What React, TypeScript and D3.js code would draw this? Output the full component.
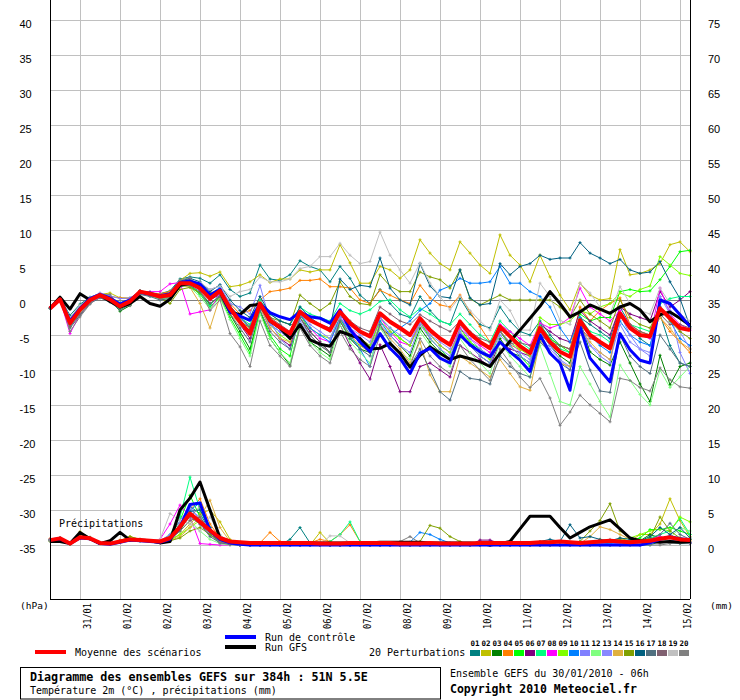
import * as d3 from "d3";

// ---- axis / label data ----
const STEP_HOURS = 6;
const TOTAL_HOURS = 384;
const FIRST_MIDNIGHT_HOUR = 18; // 30/01 06h -> 31/01 00h
const DATE_LABELS = ["31/01", "01/02", "02/02", "03/02", "04/02", "05/02", "06/02", "07/02",
  "08/02", "09/02", "10/02", "11/02", "12/02", "13/02", "14/02", "15/02"];
const TEMP_TICKS = [40, 35, 30, 25, 20, 15, 10, 5, 0, -5, -10, -15, -20, -25, -30, -35];
const PRECIP_TICKS = [75, 70, 65, 60, 55, 50, 45, 40, 35, 30, 25, 20, 15, 10, 5, 0];
const MEMBER_IDS = ["01", "02", "03", "04", "05", "06", "07", "08", "09", "10",
  "11", "12", "13", "14", "15", "16", "17", "18", "19", "20"];

// ---- temperature 2m (°C), every 6h from 30/01 06h ----
const tempMean = [
  -1.2, 0.1, -3.3, -1.4, 0.0, 0.7, 0.1, -0.9, -0.2, 1.2, 0.9, 0.5, 0.7, 2.4, 2.4, 1.7, 0.2,
  1.3, -1.2, -3.1, -4.8, -0.5, -2.9, -3.9, -4.8, -1.7, -2.9, -3.6, -4.3, -1.7, -3.3, -4.5, -5.2,
  -1.9, -3.1, -4.0, -5.0, -2.6, -4.3, -5.5, -6.4, -3.1, -4.8, -6.0, -6.9, -3.8, -5.2, -6.6, -7.6,
  -4.0, -6.0, -7.4, -8.1, -2.9, -5.0, -6.0, -6.9, -1.9, -4.0, -5.0, -5.2, -1.2, -2.6, -4.0, -4.3,
];
const tempControl = [
  -1.2, 0.1, -3.0, -1.2, 0.2, 0.8, 0.3, -0.6, 0.0, 1.1, 0.8, 0.6, 0.9, 2.5, 2.7, 2.3, 0.7,
  1.5, -1.7, -2.3, -2.9, -0.5, -1.8, -2.4, -2.8, -1.7, -2.4, -2.6, -3.3, -1.4, -4.2, -6.0, -7.4,
  -4.8, -6.9, -8.3, -10.5, -7.6, -6.9, -8.3, -9.0, -5.0, -6.4, -7.4, -8.1, -6.0, -7.4, -8.6, -10.2,
  -5.0, -7.6, -9.0, -12.9, -3.8, -8.3, -10.0, -11.7, -4.8, -7.1, -8.6, -9.0, 0.0, -0.5, -2.1, -3.8,
];
const tempGFS = [
  -1.2, 0.4, -1.3, 0.9, 0.0, 0.7, -0.2, -1.0, -0.5, 0.5, -0.5, -0.9, 0.1, 2.1, 2.4, 1.9, 0.5,
  1.2, -1.7, -2.1, -0.8, -0.6, -3.0, -4.0, -5.5, -3.5, -5.7, -6.3, -6.6, -4.5, -5.0, -5.5, -7.0,
  -6.9, -6.2, -7.6, -9.6, -7.9, -6.7, -7.6, -8.5, -8.0, -8.4, -8.8, -9.5, -7.6, -5.9, -4.3, -2.6,
  -0.9, 1.2, -0.5, -2.4, -1.7, -0.7, -1.3, -1.9, -1.0, -0.5, -1.4, -3.1, -2.1, -1.7, -2.6, -3.6,
];
const tempP01 = [
  -1.2, 0.3, -2.2, -0.6, 0.4, 0.9, 0.4, -0.4, 0.1, 1.3, 1.0, 0.9, 1.3, 3.0, 3.3, 3.1, 2.4,
  3.6, 1.5, 0.5, 1.0, 5.0, 3.0, 2.8, 3.6, 5.6, 4.8, 4.3, 2.6, 4.8, 3.1, 0.7, -0.5,
  1.5, -0.5, -2.0, -2.5, 0.5, -1.5, -3.0, -3.5, 0.3, -2.0, -3.5, -4.0, -1.0, -3.0, -4.5, -5.0,
  -3.0, -5.0, -6.5, -7.0, -2.5, -3.5, -4.5, -5.5, -1.0, -3.5, -5.5, -6.5, -2.0, -6.5, -9.0, -9.5,
];
const tempP02 = [
  -1.2, 0.2, -2.6, -0.8, 0.2, 0.8, 1.0, 0.3, 0.3, 1.0, 0.9, 0.8, 1.2, 2.8, 3.8, 3.9, 3.4,
  4.0, 1.9, 2.1, 2.6, 3.6, 2.5, 3.0, 3.0, 4.3, 4.0, 4.3, 4.3, 7.9, 5.3, 2.4, 2.4,
  4.8, 4.3, 3.1, 4.3, 8.6, 6.7, 5.2, 4.3, 8.3, 6.7, 5.0, 3.8, 9.3, 6.4, 5.0, 2.6,
  6.4, 3.3, 0.7, -1.4, 2.4, 0.7, 0.0, 0.2, 7.2, 3.6, 3.8, 4.3, 5.2, 7.9, 8.3, 6.9,
];
const tempP03 = [
  -1.2, 0.0, -3.8, -1.8, -0.3, 0.8, 0.0, -1.6, -0.8, 1.0, 0.6, 0.2, 0.3, 2.0, 2.0, 1.0, -0.6,
  0.6, -2.0, -4.5, -7.0, -1.5, -5.5, -7.5, -9.3, -3.5, -6.0, -7.0, -8.0, -3.0, -5.5, -7.0, -7.5,
  -4.0, -5.0, -6.5, -8.0, -4.0, -6.0, -7.5, -8.5, -5.0, -6.5, -8.0, -9.0, -5.5, -7.5, -8.0, -9.0,
  -4.5, -6.5, -8.0, -9.0, -3.0, -7.4, -8.5, -9.3, -6.0, -9.0, -12.0, -14.5, -7.9, -12.1, -9.5, -9.0,
];
const tempP04 = [
  -1.2, 0.1, -3.0, -1.0, 0.3, 0.9, 0.5, 0.3, 0.2, 1.3, 1.0, 0.9, 1.2, 2.5, 2.6, 1.5, 1.0,
  1.5, -0.5, -2.0, -1.5, 0.0, 1.2, 1.4, 1.7, 2.8, 2.8, 3.0, 1.9, 1.9, 1.7, 0.0, -0.5,
  1.4, 0.7, 0.0, -0.5, 2.1, 0.3, -0.7, -1.0, 0.7, -1.7, -3.8, -6.0, -4.3, -6.4, -7.1, -7.5,
  -4.3, -5.5, -6.5, -7.0, -1.0, -3.0, -1.5, -0.5, 0.3, -3.5, -4.5, -5.0, -2.5, -4.5, -6.0, -7.5,
];
const tempP05 = [
  -1.2, 0.0, -3.5, -1.6, 0.2, 0.6, -0.1, -1.1, -0.6, 1.1, 0.7, 0.2, 0.4, 2.2, 2.0, 0.8, -1.0,
  0.4, -2.5, -5.0, -7.6, -1.5, -5.0, -7.0, -8.0, -2.0, -4.5, -6.0, -7.5, -2.5, -5.5, -6.5, -7.0,
  -2.5, -4.0, -5.5, -6.5, -3.0, -5.5, -7.0, -8.5, -4.0, -6.0, -7.0, -8.0, -4.5, -6.5, -8.0, -9.5,
  -3.5, -5.5, -6.5, -7.5, -2.0, -3.0, -2.5, -2.5, 1.2, 1.5, 1.2, 1.3, 2.9, 4.8, 6.9, 7.1,
];
const tempP06 = [
  -1.2, 0.1, -3.6, -1.5, 0.0, 0.6, 0.0, -1.0, -0.3, 1.0, 0.8, 0.4, 0.6, 2.3, 2.6, 1.5, 0.0,
  0.8, -1.5, -3.5, -5.5, -1.0, -4.0, -5.5, -6.5, -2.5, -4.5, -6.0, -7.5, -3.5, -6.5, -9.0, -11.3,
  -6.4, -9.5, -13.1, -13.1, -9.5, -9.0, -10.0, -11.0, -6.5, -7.5, -8.5, -9.5, -6.0, -7.0, -7.5, -8.0,
  -3.5, -4.5, -5.5, -6.0, -1.5, -3.0, -4.0, -5.0, -1.0, -2.0, -2.5, -3.0, 1.2, -1.0, 0.0, 1.2,
];
const tempP07 = [
  -1.2, 0.2, -3.0, -1.2, 0.0, 0.5, 0.0, -1.0, -0.4, 1.1, 0.9, 0.7, 0.8, 2.4, 2.2, 0.8, -0.8,
  0.9, -1.0, -2.5, -3.5, 0.0, -2.0, -3.0, -3.5, -1.0, -2.0, -2.5, -3.0, -0.5, -1.5, -2.0, -1.4,
  -0.2, 0.0, -1.4, -2.4, -1.2, -2.0, -3.0, -3.5, -2.0, -3.5, -5.0, -6.0, -3.0, -4.5, -6.0, -7.0,
  -3.5, -5.5, -7.0, -7.5, -2.5, -4.5, -5.0, -6.0, -2.0, -3.5, -4.0, -4.5, -0.5, 0.2, 0.5, 0.5,
];
const tempP08 = [
  -1.2, 0.1, -4.8, -2.0, -0.4, 0.4, 0.0, -0.8, 0.0, 1.2, 1.2, 1.2, 2.3, 2.5, -2.0, -1.7, -1.4,
  1.0, -1.5, -3.0, -4.5, -0.5, -3.0, -4.0, -5.0, -2.0, -4.0, -5.5, -6.0, -2.5, -4.0, -5.5, -6.5,
  -2.5, -4.5, -6.0, -6.5, -3.0, -5.0, -6.5, -7.5, -4.0, -5.5, -6.5, -7.5, -3.5, -4.5, -5.5, -6.5,
  -3.3, -4.0, -3.5, -2.5, 1.7, -1.0, -2.0, -3.0, -1.5, -3.5, -5.0, -5.5, 1.7, -2.0, -3.5, -4.3,
];
const tempP09 = [
  -1.2, 0.0, -3.2, -1.3, 0.1, 0.7, 0.2, -0.8, -0.1, 1.2, 0.9, 0.5, 0.5, 2.3, 2.5, 1.8, 0.2,
  1.2, -1.2, -3.0, -4.5, -1.0, -3.5, -5.0, -6.0, -2.0, -4.0, -5.0, -5.5, -2.5, -4.5, -5.5, -6.5,
  -3.0, -4.5, -5.5, -6.5, -3.5, -5.0, -6.5, -7.5, -4.5, -6.0, -7.5, -8.5, -4.5, -6.0, -7.0, -8.0,
  -2.5, -3.5, -3.5, -3.0, -1.5, -2.0, -1.0, -0.5, 1.0, 0.5, 1.5, 2.0, 6.2, 5.0, 3.8, 3.5,
];
const tempP10 = [
  -1.2, 0.1, -2.8, -1.0, 0.2, 0.8, 0.3, -0.6, 0.0, 1.3, 1.0, 0.6, 0.8, 2.6, 2.8, 2.3, 0.8,
  1.8, -0.8, -2.5, -4.0, -1.0, -3.5, -4.5, -5.5, -2.0, -4.0, -5.0, -6.0, -2.5, -5.0, -7.0, -9.5,
  -3.0, -5.0, -4.0, -3.0, -1.5, -0.5, 1.4, 2.0, 3.1, 2.4, 2.4, 2.6, 4.8, 2.4, 2.4, 1.2,
  0.5, -1.0, -4.0, -6.0, -2.5, -5.0, -6.5, -7.5, -3.0, -5.0, -6.0, -6.5, -1.0, -3.0, -5.5, -6.5,
];
const tempP11 = [
  -1.2, 0.2, -2.7, -0.9, 0.3, 1.0, 0.6, 0.2, 0.3, 1.1, 0.9, 0.6, 0.9, 2.7, 3.0, 2.2, 1.5,
  2.0, -0.5, -1.0, -2.0, 2.1, -3.0, -5.5, -7.0, -3.0, -5.0, -6.5, -7.5, -2.5, -4.5, -6.0, -7.0,
  -3.5, -5.0, -6.5, -7.5, -3.5, -5.5, -7.0, -8.0, -4.5, -6.5, -8.0, -9.0, -5.0, -6.5, -8.0, -9.0,
  -4.5, -6.5, -8.5, -10.0, -3.5, -6.5, -8.0, -9.0, -2.0, -5.0, -7.0, -8.0, 0.5, -1.5, -7.5, -10.5,
];
const tempP12 = [
  -1.2, 0.0, -3.9, -1.9, -0.2, 0.5, -0.2, -1.3, -0.7, 0.9, 0.6, 0.1, 0.3, 2.1, 1.8, 0.5, -1.3,
  0.3, -2.8, -5.5, -8.0, -2.0, -5.5, -7.5, -9.0, -3.5, -6.0, -7.5, -8.5, -3.5, -6.0, -7.5, -9.0,
  -4.0, -6.0, -7.5, -8.5, -4.5, -6.5, -8.0, -9.5, -5.5, -7.5, -9.0, -10.5, -6.0, -8.0, -9.5, -11.0,
  -6.5, -10.5, -14.5, -15.0, -9.5, -12.0, -14.5, -16.7, -9.3, -11.5, -13.5, -15.0, -10.0, -12.5, -11.0, -9.5,
];
const tempP13 = [
  -1.2, 0.1, -3.1, -1.2, 0.2, 0.8, 0.3, -0.7, 0.0, 1.2, 1.0, 0.6, 0.8, 2.5, 2.5, 1.9, 0.5,
  1.4, -1.0, -3.0, -4.5, -1.0, -3.5, -4.5, -5.5, -2.0, -3.5, -4.5, -5.5, -2.0, -4.0, -5.0, -6.0,
  -2.5, -4.0, -5.0, -6.0, -3.0, -5.0, -6.0, -7.0, -3.5, -5.5, -7.0, -8.0, -4.5, -6.0, -7.5, -8.5,
  -5.0, -7.0, -8.5, -9.5, -4.0, -6.5, -7.5, -8.5, -3.5, -6.0, -7.0, -7.5, 0.5, -2.0, -4.5, -7.0,
];
const tempP14 = [
  -1.2, 0.0, -3.4, -1.5, 0.1, 0.8, 0.2, -0.8, -0.2, 1.3, 0.9, 0.5, 0.7, 2.2, 1.8, -0.5, -4.0,
  0.5, -2.0, -3.5, -5.0, -1.0, -4.0, -5.5, -6.0, -2.5, -5.0, -6.5, -7.5, -3.0, -5.0, -6.5, -7.5,
  -3.5, -5.5, -7.0, -9.0, -6.0, -10.7, -13.1, -13.1, -8.0, -9.0, -10.0, -11.0, -8.5, -10.5, -12.4, -12.9,
  -5.7, -7.5, -9.0, -9.5, -4.0, -6.0, -7.5, -8.5, -2.0, -3.5, -4.5, -5.0, -2.5, -4.0, -6.0, -7.0,
];
const tempP15 = [
  -1.2, 0.1, -3.2, -1.1, 0.0, 0.7, 0.3, -1.2, -0.5, 1.0, 0.8, 0.3, -0.5, 1.5, 1.8, 1.0, -0.5,
  0.5, -1.5, -3.0, -4.0, -0.8, -2.5, -3.0, -3.5, 0.7, -0.5, -1.5, -0.5, 2.6, 0.5, -0.5, -0.7,
  3.6, 2.0, 1.2, 1.2, 4.0, 3.3, 2.9, 1.7, 4.3, 0.2, -0.7, 0.0, 0.7, 0.0, 0.0, 0.0,
  0.0, 0.0, -1.0, -2.5, 0.0, -2.0, -3.0, -4.0, 0.0, -2.5, -3.5, -4.0, -1.0, -3.0, -4.5, -5.5,
];
const tempP16 = [
  -1.2, 0.2, -2.9, -1.1, 0.2, 0.8, 0.2, -0.7, -0.1, 1.3, 1.1, 0.7, 0.9, 2.7, 3.1, 2.6, 1.2,
  2.2, 0.0, -1.5, -2.5, 0.5, -2.0, -3.0, -3.5, -1.0, -2.5, -3.5, -4.0, 3.0, 1.5, 2.1, 1.9,
  6.0, 1.7, 0.0, -0.7, 5.2, 2.0, 0.5, 0.3, 4.3, 0.3, -0.7, -0.5, 5.2, 3.6, 4.8, 5.2,
  6.4, 5.8, 6.0, 6.0, 8.2, 6.7, 6.0, 5.2, 5.8, 4.3, 3.8, 4.0, 5.5, 2.6, 0.2, -3.8,
];
const tempP17 = [
  -1.2, 0.0, -4.0, -2.2, -0.5, 0.3, -0.3, -1.4, -0.7, 0.8, 0.5, 0.0, 0.2, 2.0, 2.1, 1.2, -0.5,
  0.5, -2.0, -4.0, -6.0, -1.5, -4.5, -6.0, -7.0, -2.5, -5.0, -6.5, -7.5, -3.0, -5.5, -7.0, -8.0,
  -3.5, -6.0, -7.5, -9.5, -7.0, -10.0, -13.1, -14.3, -10.2, -11.2, -11.4, -12.0, -8.0, -9.5, -10.5, -11.0,
  -6.0, -7.5, -9.0, -10.0, -6.0, -10.0, -13.0, -13.2, -5.0, -8.0, -9.5, -10.5, -5.0, -7.0, -9.0, -9.5,
];
const tempP18 = [
  -1.2, 0.1, -3.8, -2.0, -0.4, 0.6, 0.4, -0.9, -0.5, 1.1, 0.8, 0.3, 0.6, 2.6, 2.9, 2.0, 0.4,
  1.5, -0.8, -2.5, -3.8, -0.5, -2.5, -3.5, -4.5, -1.5, -3.0, -3.5, -4.5, -1.5, -3.0, -4.0, -4.5,
  -1.0, -2.0, -3.0, -3.5, -2.1, -3.0, -3.8, -4.5, -3.0, -4.5, -5.5, -6.0, -4.5, -6.2, -6.1, -6.5,
  -5.0, -6.0, -6.5, -7.0, -4.0, -5.5, -6.0, -7.0, -2.5, -3.5, -4.5, -5.0, -2.0, -3.5, -3.5, -4.0,
];
const tempP19 = [
  -1.2, 0.2, -2.5, -0.8, 0.3, 0.9, 0.4, -0.5, 0.0, 1.2, 0.9, 0.7, 1.0, 2.5, 2.6, 2.5, 1.5,
  2.0, 0.5, 1.2, 1.5, 3.3, 2.6, 2.6, 3.0, 4.5, 4.8, 6.2, 6.2, 8.1, 6.4, 5.2, 5.5,
  9.7, 6.4, 4.3, 2.4, 5.3, 2.4, 0.5, -1.4, 0.5, -1.5, -3.0, -4.3, 0.0, -1.5, -4.3, -4.3,
  2.4, 0.5, -2.9, -3.5, 2.4, 1.0, -1.0, -2.0, 1.9, -0.5, -1.5, -2.0, 1.7, -0.5, -2.0, -3.0,
];
const tempP20 = [
  -1.2, 0.3, -4.5, -2.4, -0.6, 0.7, 0.8, -1.0, -0.8, 1.0, 0.7, 0.2, 0.4, 2.8, 3.2, 1.5, -1.5,
  0.0, -4.8, -6.7, -9.5, -3.0, -6.5, -8.0, -9.5, -4.0, -6.5, -8.0, -9.0, -4.5, -7.0, -8.5, -9.5,
  -5.0, -7.0, -8.5, -9.5, -5.5, -8.0, -9.5, -10.5, -6.5, -8.5, -10.0, -11.5, -7.0, -9.0, -11.0, -12.5,
  -11.2, -14.0, -17.9, -16.0, -13.6, -15.0, -16.2, -17.4, -11.2, -11.5, -12.5, -13.0, -9.7, -11.4, -12.4, -12.6,
];

// ---- precipitation (mm / 6h) ----
const precMean = [
  0.7, 0.95, 0.2, 1.1, 0.95, 0.3, 0.2, 0.5, 0.8, 0.7, 0.6, 0.5, 1.0, 2.6, 4.5, 3.3, 2.1,
  1.0, 0.5, 0.4, 0.3, 0.3, 0.3, 0.3, 0.3, 0.3, 0.3, 0.2, 0.2, 0.2, 0.3, 0.3, 0.3,
  0.3, 0.3, 0.2, 0.2, 0.2, 0.3, 0.2, 0.2, 0.2, 0.2, 0.3, 0.3, 0.3, 0.3, 0.3, 0.3,
  0.4, 0.4, 0.5, 0.4, 0.3, 0.4, 0.5, 0.6, 0.5, 0.4, 0.5, 0.6, 0.9, 1.1, 0.8, 0.7,
];
const precControl = [
  0.7, 0.9, 0.2, 1.0, 0.9, 0.2, 0.1, 0.4, 0.7, 0.6, 0.5, 0.4, 0.8, 2.5, 5.8, 6.0, 2.0,
  0.8, 0.3, 0.1, 0, 0, 0, 0, 0, 0, 0, 0, 0, 0, 0, 0, 0,
  0, 0, 0, 0, 0, 0, 0, 0, 0, 0, 0, 0, 0, 0, 0, 0,
  0, 0, 0, 0, 0, 0, 0, 0, 0, 0, 0, 0.3, 0.8, 1.2, 0.9, 0.7,
];
const precGFS = [
  0.5, 0.5, 0.2, 1.8, 0.9, 0.2, 0.6, 1.8, 0.7, 0.7, 0.6, 0.3, 0.5, 5.0, 6.7, 9.0, 5.0,
  1.0, 0.5, 0.3, 0.2, 0.1, 0.1, 0.1, 0.1, 0.2, 0.3, 0.3, 0.3, 0.3, 0.3, 0.3, 0.3,
  0.4, 0.4, 0.4, 0.4, 0.4, 0.3, 0.3, 0.3, 0.3, 0.3, 0.2, 0.0, 0.2, 0.5, 2.3, 4.1,
  4.1, 4.1, 2.5, 1.0, 1.8, 2.6, 3.1, 3.6, 2.3, 1.0, 0.6, 0.5, 0.4, 0.5, 0.4, 0.5,
];
const precP01 = [
  0.8, 1.0, 0.2, 1.2, 0.9, 0.3, 0.1, 0.5, 0.9, 0.6, 0.5, 0.5, 1.0, 3.0, 5.5, 4.5, 2.0,
  0.5, 0.2, 0, 0, 0, 0, 0, 0.8, 2.5, 0.3, 0, 0, 0, 0, 0, 0,
  0, 0, 0, 0, 0, 0, 0, 0, 0, 0, 0, 0, 0, 0, 0, 0.2,
  0.3, 0.2, 0, 0, 0.5, 0.2, 0, 0, 0, 0, 0, 0, 0.5, 0.3, 0.2, 0.2,
];
const precP02 = [
  0.7, 0.9, 0.3, 1.9, 1.0, 0.2, 0.3, 0.6, 1.2, 0.8, 0.6, 0.4, 0.8, 1.5, 3.0, 4.5, 5.0,
  3.3, 0.8, 0.2, 0, 0, 0, 0, 0, 0, 0, 1.8, 0.3, 0, 0, 0, 0,
  0, 0, 0, 0, 0, 0, 0, 0, 0, 0, 0, 0, 0, 0, 0, 0,
  0, 0.3, 0, 0, 0.5, 0, 0.8, 0.2, 1.0, 0.5, 1.5, 1.5, 3.0, 6.6, 3.5, 1.2,
];
const precP03 = [
  0.6, 0.9, 0.1, 1.0, 1.1, 0.3, 0.2, 0.4, 0.7, 0.8, 0.6, 0.5, 0.8, 2.0, 4.5, 3.5, 1.5,
  0.3, 0.1, 0, 0, 0, 0, 0, 0, 0, 0, 0, 0, 0, 0, 0, 0,
  0, 0, 0, 0, 0, 0, 0, 0, 0, 0, 0, 0, 0, 0, 0, 0,
  0, 0, 0, 0, 0, 0, 0, 0.3, 0.5, 0.4, 0.6, 1.5, 1.0, 0.6, 0.5, 0.8,
];
const precP04 = [
  0.9, 0.7, 0.2, 1.0, 0.8, 0.2, 0.3, 0.7, 0.8, 0.6, 0.5, 0.5, 0.8, 2.5, 5.0, 6.6, 3.0,
  1.0, 0.3, 0, 0, 0.3, 1.8, 0.5, 0.3, 0.2, 0.3, 0.8, 0.5, 1.5, 2.9, 0.5, 0.2,
  0, 0, 0, 0, 0, 0, 0, 0, 0, 0, 0, 0, 0, 0, 0, 0,
  0, 0, 0, 0, 0, 0, 0.3, 0.5, 0.3, 0.2, 0.5, 0.8, 1.2, 0.8, 1.0, 0.6,
];
const precP05 = [
  0.7, 1.0, 0.2, 1.1, 1.0, 0.3, 0.2, 0.5, 0.8, 0.7, 0.6, 0.6, 1.2, 3.5, 7.1, 4.0, 1.5,
  0.5, 0.2, 0, 0, 0, 0, 0, 0, 0, 0, 0, 0, 0, 0, 0, 0,
  0, 0, 0, 0, 0, 0, 0, 0, 0, 0, 0, 0, 0, 0, 0, 0,
  0, 0, 0, 0, 0, 0.2, 0.3, 0.5, 0.5, 0.6, 1.0, 2.2, 2.2, 2.5, 2.0, 1.5,
];
const precP06 = [
  0.6, 0.9, 0.2, 1.1, 1.0, 0.2, 0.2, 0.4, 0.8, 0.7, 0.6, 0.5, 1.0, 3.0, 4.5, 3.0, 1.5,
  0.5, 0.2, 0, 0, 0, 0, 0, 0, 0, 0, 0, 0, 0, 0, 0, 0,
  0, 0, 0, 0, 0, 0, 0, 0, 0, 0, 0.7, 0.7, 0.2, 0, 0, 0,
  0, 0, 0, 0, 0, 0, 0, 0, 0.2, 0.3, 0.3, 0.5, 0.8, 0.5, 0.6, 0.4,
];
const precP07 = [
  0.7, 1.0, 0.3, 1.2, 0.9, 0.3, 0.2, 0.5, 0.8, 0.7, 0.6, 0.5, 1.5, 4.0, 9.7, 5.0, 2.0,
  0.5, 0.2, 0, 0, 0, 0, 0, 0, 0, 0, 0, 0.5, 1.5, 3.3, 0.5, 0.2,
  0, 0, 0, 0, 0, 0, 0, 0, 0, 0, 0, 0, 0, 0, 0, 0,
  0, 0, 0, 0, 0, 0, 0, 0.2, 0.5, 0.3, 0.5, 1.0, 1.5, 2.0, 3.8, 1.5,
];
const precP08 = [
  0.8, 1.0, 0.2, 1.1, 0.9, 0.3, 0.2, 0.5, 0.8, 0.8, 0.6, 0.8, 3.0, 5.7, 4.0, 0.2, 0.1,
  0, 0, 0, 0, 0, 0, 0, 0, 0, 0, 0, 0, 0, 0, 0, 0,
  0, 0, 0, 0, 0, 0, 0, 0, 0, 0, 0, 0, 0, 0, 0, 0,
  0, 0, 0, 0, 0, 0, 0, 0, 0.3, 0.5, 0.5, 0.8, 1.2, 0.8, 0.5, 0.3,
];
const precP09 = [
  0.6, 0.9, 0.2, 1.0, 1.0, 0.3, 0.2, 0.6, 1.0, 0.7, 0.6, 0.4, 0.6, 1.5, 2.5, 3.5, 1.5,
  0.3, 0.1, 0, 0, 0, 0, 0, 0, 0, 0, 0, 0, 0, 0, 0, 0,
  0, 0, 0, 0, 0, 0, 0, 0, 0, 0, 0, 0, 0, 0, 0, 0,
  0, 0, 0, 0, 0, 0, 0.3, 0.5, 0.8, 1.0, 1.5, 2.0, 2.3, 2.0, 4.0, 3.3,
];
const precP10 = [
  0.7, 0.9, 0.2, 1.0, 0.9, 0.3, 0.2, 0.5, 0.7, 0.6, 0.6, 0.5, 1.0, 2.5, 5.0, 6.0, 2.5,
  0.5, 0.2, 0, 0, 0, 0, 0, 0, 0, 0, 0, 0, 0, 0, 0, 0,
  0, 0, 0, 0.4, 1.8, 1.5, 0.8, 0.3, 0, 0, 0, 0, 0, 0, 0, 0,
  0, 0, 0, 0, 0, 0, 0, 0, 0, 0, 0, 0.3, 0.8, 0.5, 0.6, 0.4,
];
const precP11 = [
  0.7, 0.9, 0.2, 1.1, 1.0, 0.3, 0.2, 0.4, 0.8, 0.7, 0.6, 0.6, 1.5, 3.5, 5.5, 3.5, 1.5,
  0.3, 0.1, 0, 0, 0, 0, 0, 0, 0, 0, 0, 0, 0, 0, 0, 0,
  0, 0, 0, 0, 0, 0, 0, 0, 0, 0, 0, 0, 0, 0, 0, 0,
  0, 0, 0, 0, 0, 0, 0.2, 0.3, 0.2, 0.3, 0.5, 0.5, 0.8, 0.6, 0.4, 0.3,
];
const precP12 = [
  0.6, 0.8, 0.2, 1.0, 0.9, 0.3, 0.1, 0.4, 0.7, 0.6, 0.5, 0.5, 1.0, 2.0, 3.5, 2.0, 0.8,
  0.2, 0, 0, 0, 0, 0, 0, 0, 0, 0, 0, 0, 0, 0, 0, 0,
  0, 0, 0, 0, 0, 0, 0, 0, 0, 0, 0, 0, 0, 0, 0, 0,
  0, 0, 0, 0, 0, 0, 0, 0, 0, 0, 0.2, 0.5, 0.5, 1.0, 2.5, 2.0,
];
const precP13 = [
  0.7, 1.0, 0.2, 1.1, 0.9, 0.3, 0.2, 0.5, 0.8, 0.7, 0.6, 0.5, 1.0, 3.0, 5.0, 4.0, 2.0,
  0.5, 0.1, 0, 0, 0, 0, 0, 0, 0, 0, 0, 0, 0, 0, 0, 0,
  0, 0, 0, 0, 0, 0, 0, 0, 0, 0, 0, 0, 0, 0, 0, 0,
  0, 0, 0, 0, 0, 0, 0, 0, 0, 0, 0.3, 0.5, 0.8, 0.6, 0.5, 0.4,
];
const precP14 = [
  0.6, 0.8, 0.2, 1.2, 1.0, 0.2, 0.2, 0.6, 0.9, 0.7, 0.5, 0.3, 0.6, 1.2, 2.5, 4.0, 6.4,
  2.5, 0.5, 0, 0, 0, 0, 0, 0, 0, 0, 0, 0, 0, 0, 0, 0,
  0, 0, 0, 0, 0, 0, 0, 0, 0, 0, 0, 0, 0, 0, 0, 0,
  0, 0, 0, 0, 0.2, 1.2, 2.6, 2.2, 1.5, 0.8, 0.5, 0.4, 0.5, 0.8, 1.0, 0.5,
];
const precP15 = [
  0.7, 0.9, 0.2, 1.3, 1.0, 0.3, 0.2, 0.6, 1.2, 0.8, 0.6, 0.4, 0.6, 1.0, 2.0, 2.5, 1.5,
  0.5, 0.2, 0, 0, 0, 0, 0, 0, 0, 0, 0, 0, 0, 0, 0, 0,
  0, 0, 0, 0, 0.5, 2.8, 2.4, 1.2, 0.5, 0, 0, 0, 0, 0, 0, 0,
  0, 0, 0, 0, 0.5, 2.0, 3.5, 5.9, 2.0, 1.0, 0.5, 1.0, 4.0, 2.0, 1.0, 0.8,
];
const precP16 = [
  0.7, 1.0, 0.2, 1.1, 0.9, 0.3, 0.2, 0.5, 0.8, 0.7, 0.6, 0.5, 1.0, 2.5, 4.8, 5.0, 2.5,
  0.6, 0.2, 0, 0, 0, 0, 0, 0, 0, 0, 0, 0, 0, 0, 0, 0,
  0, 0, 0, 0, 0, 0, 0, 0, 0, 0, 0, 0, 0, 0, 0, 0.3,
  0.5, 0.8, 0.5, 2.9, 1.0, 1.2, 0.8, 0.6, 1.0, 0.8, 0.6, 1.2, 2.5, 1.5, 2.5, 1.0,
];
const precP17 = [
  0.6, 0.9, 0.2, 1.0, 1.0, 0.3, 0.2, 0.4, 0.7, 0.7, 0.6, 0.4, 0.8, 2.5, 4.0, 3.0, 1.2,
  0.3, 0.1, 0, 0, 0, 0, 0, 0, 0, 0, 0, 0, 0, 0, 0, 0,
  0, 0, 0, 0, 0, 0, 0, 0, 0, 0, 0, 0, 0, 0, 0, 0,
  0, 0, 0, 0, 0, 0, 0, 0, 0, 0.3, 0.5, 0.8, 1.5, 3.1, 1.5, 0.8,
];
const precP18 = [
  0.7, 0.9, 0.2, 1.1, 0.9, 0.3, 0.2, 0.5, 0.8, 0.7, 0.6, 0.5, 1.0, 2.0, 3.5, 4.0, 2.0,
  0.4, 0.1, 0, 0, 0, 0, 0, 0, 0, 0, 0, 0, 0, 0, 0, 0,
  0, 0, 0, 0, 0, 0, 0, 0, 0, 0, 0, 0, 0, 0, 0, 0,
  0, 0, 0, 0, 0, 0, 0.5, 0.8, 0.5, 0.4, 0.3, 0.5, 0.5, 0.4, 0.3, 0.3,
];
const precP19 = [
  0.7, 1.0, 0.2, 1.1, 0.9, 0.3, 0.2, 0.5, 0.8, 0.7, 0.6, 0.8, 4.5, 3.5, 3.0, 2.0, 4.0,
  1.5, 0.3, 0, 0, 0, 0, 0, 0, 0, 0, 0, 1.3, 1.3, 0.3, 0, 0,
  0, 0, 0, 0, 0, 0, 0, 0, 0, 0, 0, 0, 0, 0, 0, 0,
  0, 0, 0, 0, 0, 0, 0, 0, 0, 0, 0.2, 0.3, 0.5, 0.8, 0.6, 0.5,
];
const precP20 = [
  0.7, 0.9, 0.2, 1.0, 1.0, 0.3, 0.2, 0.4, 0.8, 0.6, 0.6, 0.4, 0.8, 2.5, 4.0, 5.5, 2.0,
  0.5, 0.2, 0, 0, 0, 0, 0, 0, 0, 0, 0, 0, 0, 0, 0, 0.3,
  0, 0.3, 0.5, 1.2, 0.3, 0, 0, 0, 0, 0, 0, 0, 0, 0, 0, 0,
  0, 0, 0, 0, 0, 0, 0, 0, 0, 0, 0, 0, 0, 0.2, 0.3, 0.3,
];

const MEMBER_COLORS = ["#008080", "#c0c000", "#008000", "#ff8000", "#00ff00", "#800080",
  "#00ff80", "#ff00ff", "#80ff00", "#0080ff", "#8080ff", "#80ff80", "#8888ff", "#e0b040",
  "#80a000", "#006080", "#507080", "#806070", "#c0c0c0", "#808080"];

const memberTemps = [tempP01, tempP02, tempP03, tempP04, tempP05, tempP06, tempP07, tempP08, tempP09, tempP10,
  tempP11, tempP12, tempP13, tempP14, tempP15, tempP16, tempP17, tempP18, tempP19, tempP20];
const memberPrecs = [precP01, precP02, precP03, precP04, precP05, precP06, precP07, precP08, precP09, precP10,
  precP11, precP12, precP13, precP14, precP15, precP16, precP17, precP18, precP19, precP20];

// ---- layout ----
const W = 740;
const H = 700;
const LEFT = 50;
const RIGHT = 690;
const TOP = 0;
const BOTTOM = 599;
const MONO = "'DejaVu Sans Mono', 'Liberation Mono', monospace";
const SANS = "'Liberation Sans', Arial, sans-serif";

const x = d3.scaleLinear().domain([0, TOTAL_HOURS]).range([LEFT, RIGHT]);
const yT = d3.scaleLinear().domain([-35, 40]).range([545, 20]);
const yP = d3.scaleLinear().domain([0, 75]).range([545, 20]);

const tempLine = d3.line<number>().x((_, i) => x(i * STEP_HOURS)).y((d) => yT(d));
const precLine = d3.line<number>().x((_, i) => x(i * STEP_HOURS)).y((d) => yP(d));

function markers(values: number[], y: (v: number) => number) {
  return values
    .map((v, i) => {
      const px = x(i * STEP_HOURS);
      const py = y(v);
      return `M${px - 1.5},${py}h3M${px},${py - 1.5}v3`;
    })
    .join("");
}

export default function App() {
  const dayHours = DATE_LABELS.map((_, k) => FIRST_MIDNIGHT_HOUR + 24 * k);

  return (
    <svg
      width={W}
      height={H}
      viewBox={`0 0 ${W} ${H}`}
      style={{ position: "absolute", left: 0, top: 0, background: "#fff" }}
    >
      <rect x={0} y={0} width={W} height={H} fill="#fff" />

      {/* grid */}
      <g shapeRendering="crispEdges">
        {dayHours.map((h) => (
          <line key={`v${h}`} x1={x(h)} x2={x(h)} y1={TOP} y2={BOTTOM} stroke="#c0c0c0" />
        ))}
        {TEMP_TICKS.map((t) => (
          <line
            key={`h${t}`}
            x1={LEFT}
            x2={RIGHT}
            y1={yT(t)}
            y2={yT(t)}
            stroke={t === 0 ? "#808080" : "#c0c0c0"}
          />
        ))}
      </g>

      {/* ensemble members */}
      {memberTemps.map((vals, m) => (
        <g key={`mt${m}`} stroke={MEMBER_COLORS[m]} fill="none" strokeWidth={1}>
          <path d={tempLine(vals) ?? ""} />
          <path d={markers(vals, yT)} />
        </g>
      ))}
      {memberPrecs.map((vals, m) => (
        <g key={`mp${m}`} stroke={MEMBER_COLORS[m]} fill="none" strokeWidth={1}>
          <path d={precLine(vals) ?? ""} />
          <path d={markers(vals, yP)} />
        </g>
      ))}

      {/* GFS, control, mean */}
      <g fill="none" strokeLinejoin="round">
        <path d={tempLine(tempGFS) ?? ""} stroke="#000" strokeWidth={3} />
        <path d={precLine(precGFS) ?? ""} stroke="#000" strokeWidth={3} />
        <path d={tempLine(tempControl) ?? ""} stroke="#0000ff" strokeWidth={3} />
        <path d={precLine(precControl) ?? ""} stroke="#0000ff" strokeWidth={3} />
        <path d={tempLine(tempMean) ?? ""} stroke="#ff0000" strokeWidth={4} />
        <path d={precLine(precMean) ?? ""} stroke="#ff0000" strokeWidth={4} />
      </g>

      {/* frame */}
      <g stroke="#000" shapeRendering="crispEdges">
        <line x1={LEFT} x2={LEFT} y1={TOP} y2={BOTTOM} />
        <line x1={RIGHT} x2={RIGHT} y1={TOP} y2={BOTTOM} />
        <line x1={LEFT} x2={RIGHT} y1={BOTTOM} y2={BOTTOM} />
      </g>

      {/* axis labels */}
      <g fontFamily={SANS} fontSize={11} fill="#000">
        {TEMP_TICKS.map((t) => (
          <text key={`lt${t}`} x={19.5} y={yT(t) + 7.5}>
            {t}
          </text>
        ))}
        {PRECIP_TICKS.map((p) => (
          <text key={`rt${p}`} x={708} y={yP(p) + 7.5}>
            {p}
          </text>
        ))}
      </g>

      <g fontFamily={MONO} fontSize={10} fill="#000">
        {DATE_LABELS.map((lab, k) => {
          const gx = x(dayHours[k]) + 10.5;
          return (
            <text
              key={lab}
              transform={`translate(${gx},603) rotate(-90)`}
              textAnchor="end"
              textLength={26}
              lengthAdjust="spacingAndGlyphs"
            >
              {lab}
            </text>
          );
        })}
        <text x={20} y={609} fontSize={9.5}>(hPa)</text>
        <text x={710} y={609} fontSize={9.5}>(mm)</text>
        <text x={59} y={527}>Précipitations</text>

        {/* legend */}
        <rect x={35} y={650} width={31} height={4} fill="#ff0000" />
        <text x={75} y={655.5}>Moyenne des scénarios</text>
        <rect x={225} y={635} width={31} height={4} fill="#0000ff" />
        <text x={265} y={640.5}>Run de contrôle</text>
        <rect x={225} y={645} width={31} height={4} fill="#000" />
        <text x={265} y={651}>Run GFS</text>
        <text x={369} y={656}>20 Perturbations</text>
        {MEMBER_IDS.map((id, m) => (
          <g key={id}>
            <text
              x={475 + 11 * m}
              y={646}
              fontSize={7.5}
              fontWeight="bold"
              textAnchor="middle"
            >
              {id}
            </text>
            <rect x={470 + 11 * m} y={650} width={10} height={6} fill={MEMBER_COLORS[m]} />
          </g>
        ))}

        {/* info boxes */}
        <rect x={20.5} y={667.5} width={420} height={31.5} fill="none" stroke="#000" />
        <text x={30} y={680.5} fontSize={11.7} fontWeight="bold">
          Diagramme des ensembles GEFS sur 384h : 51N 5.5E
        </text>
        <text x={30} y={694}>Température 2m (°C) , précipitations (mm)</text>
        <text x={450} y={676.5}>Ensemble GEFS du 30/01/2010 - 06h</text>
        <text x={450} y={693} fontSize={11.5} fontWeight="bold">
          Copyright 2010 Meteociel.fr
        </text>
      </g>
    </svg>
  );
}
